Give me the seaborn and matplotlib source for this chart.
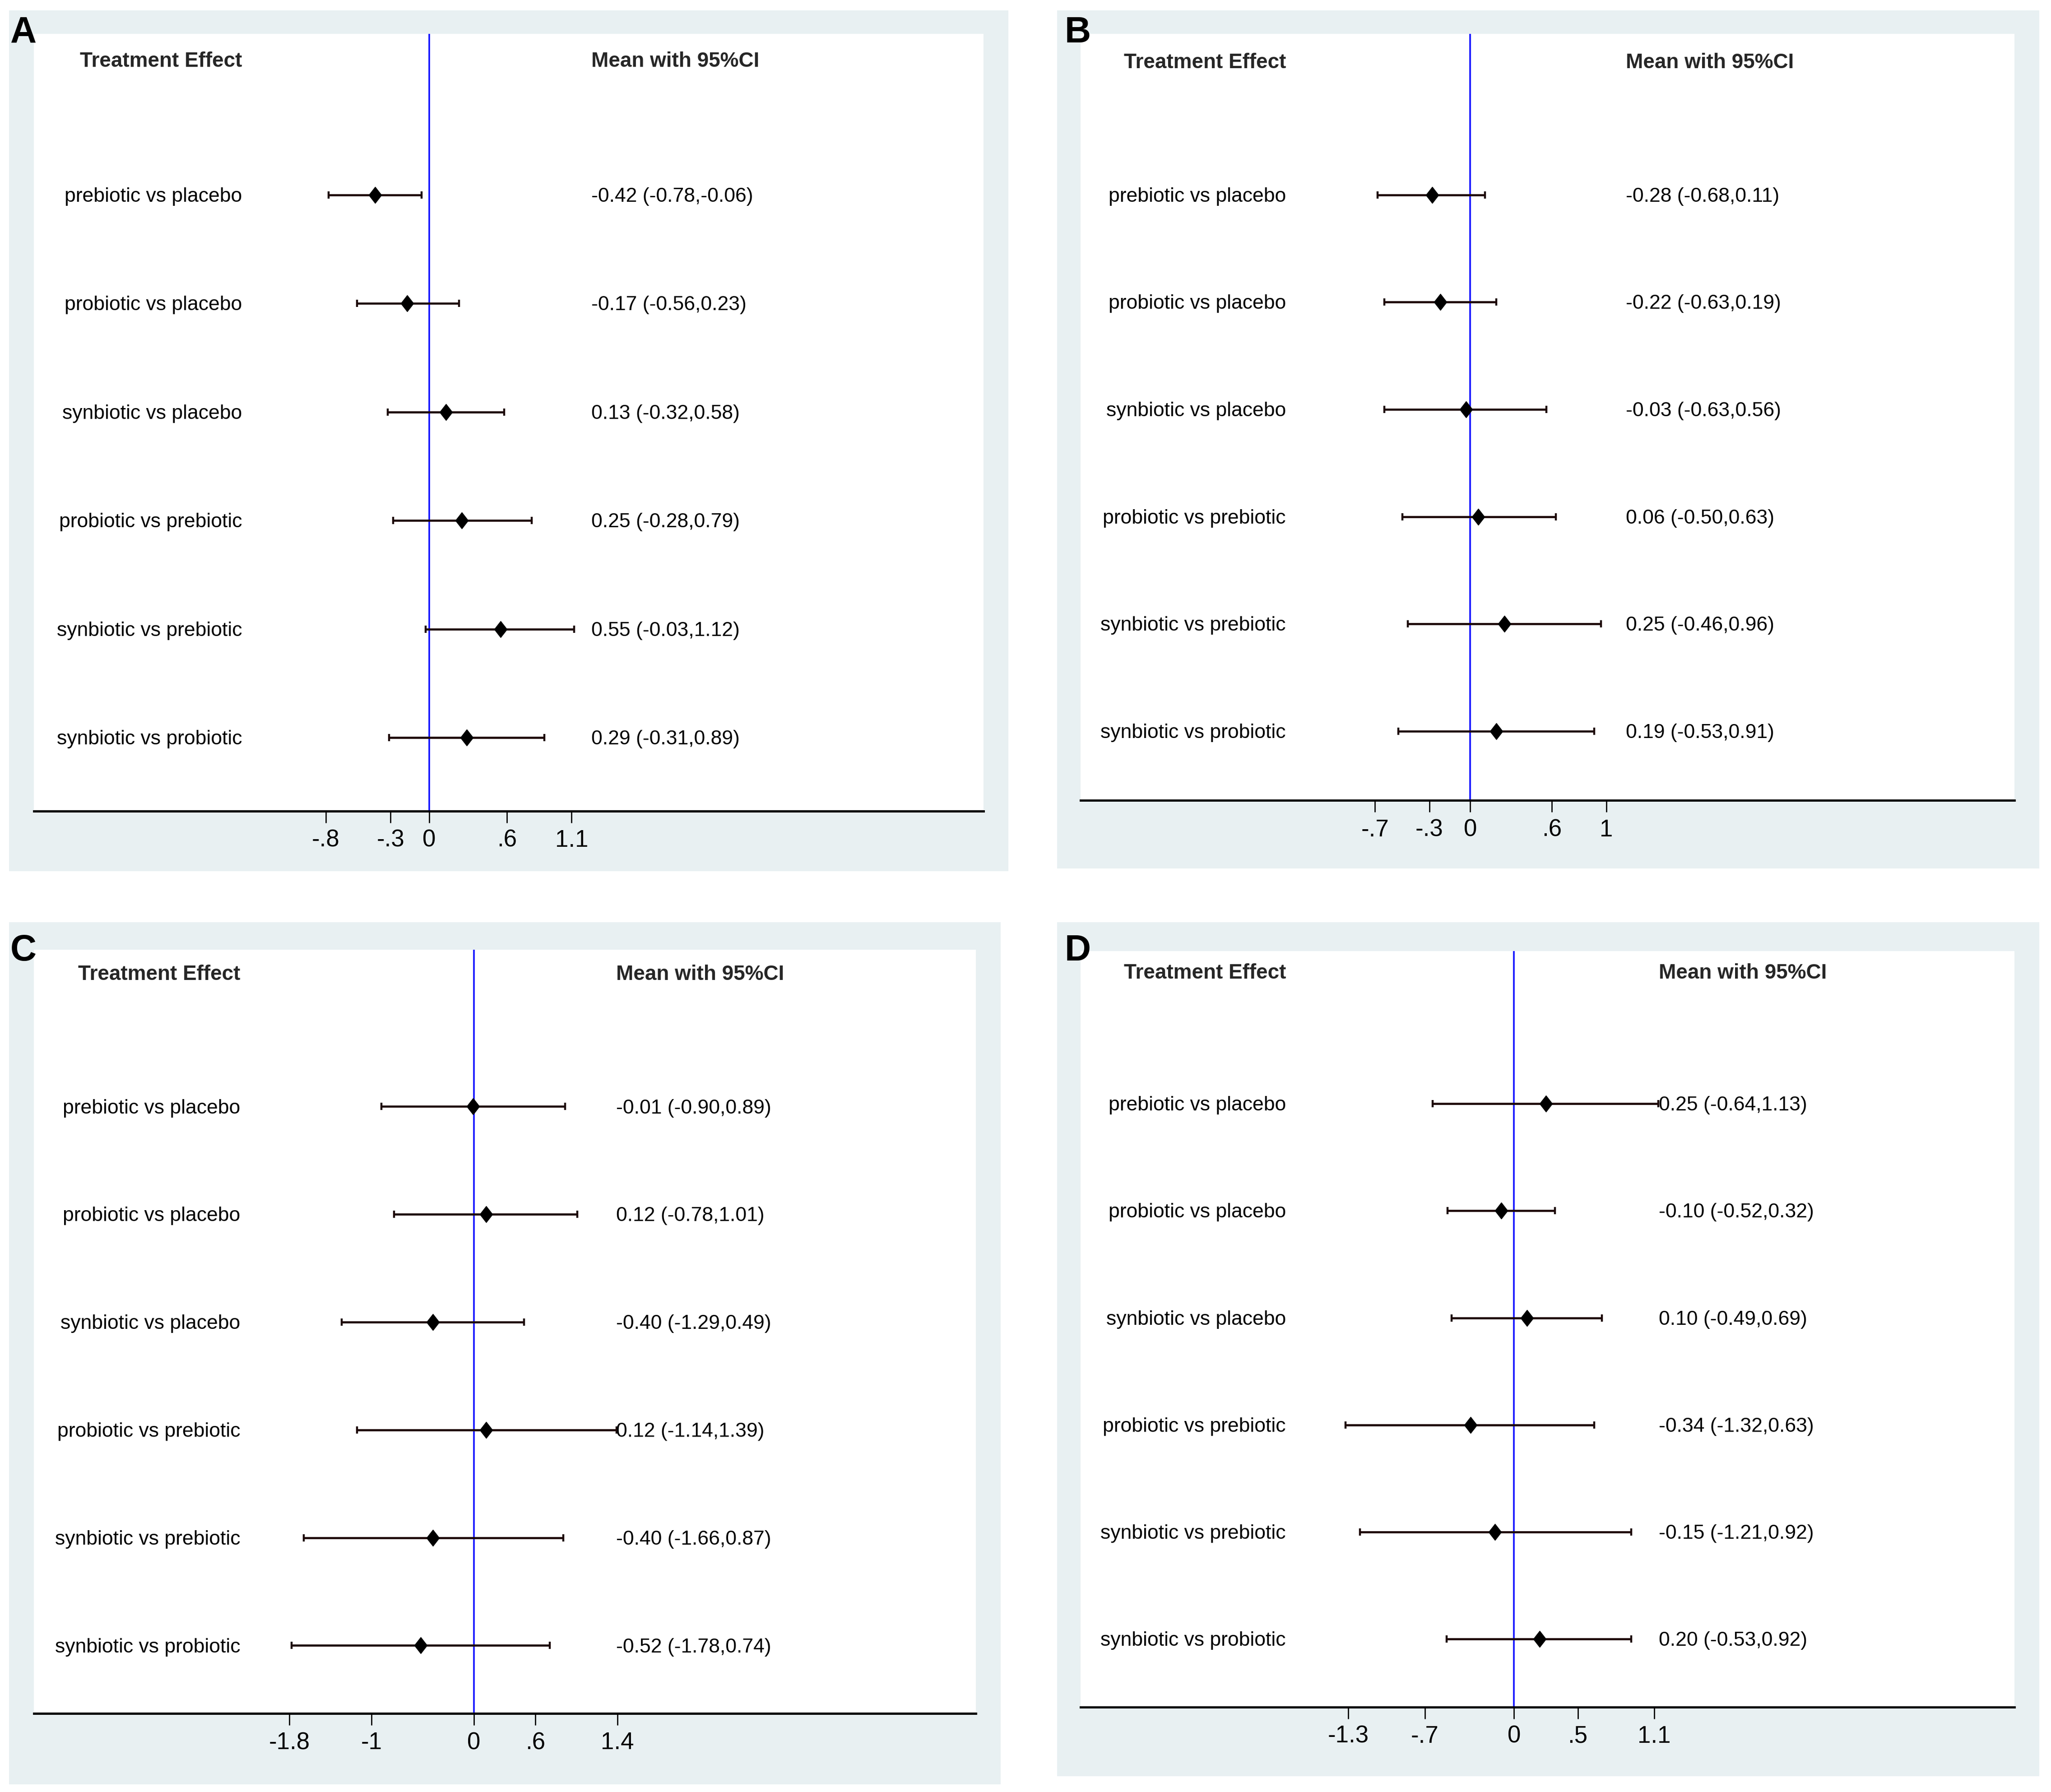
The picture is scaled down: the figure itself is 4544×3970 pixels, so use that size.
import matplotlib
matplotlib.use("Agg")
import matplotlib.pyplot as plt
import seaborn as sns
import pandas as pd
import numpy as np
from matplotlib import font_manager
from matplotlib.path import Path
from matplotlib.patches import Rectangle

# =========================================
# DATA
# =========================================

comparisons = [
    "prebiotic vs placebo",
    "probiotic vs placebo",
    "synbiotic vs placebo",
    "probiotic vs prebiotic",
    "synbiotic vs prebiotic",
    "synbiotic vs probiotic",
]

a_mean = [-0.42, -0.17, 0.13, 0.25, 0.55, 0.29]
a_low = [-0.78, -0.56, -0.32, -0.28, -0.03, -0.31]
a_high = [-0.06, 0.23, 0.58, 0.79, 1.12, 0.89]
a_ticks = [-0.8, -0.3, 0, 0.6, 1.1]

b_mean = [-0.28, -0.22, -0.03, 0.06, 0.25, 0.19]
b_low = [-0.68, -0.63, -0.63, -0.50, -0.46, -0.53]
b_high = [0.11, 0.19, 0.56, 0.63, 0.96, 0.91]
b_ticks = [-0.7, -0.3, 0, 0.6, 1]

c_mean = [-0.01, 0.12, -0.40, 0.12, -0.40, -0.52]
c_low = [-0.90, -0.78, -1.29, -1.14, -1.66, -1.78]
c_high = [0.89, 1.01, 0.49, 1.39, 0.87, 0.74]
c_ticks = [-1.8, -1, 0, 0.6, 1.4]

d_mean = [0.25, -0.10, 0.10, -0.34, -0.15, 0.20]
d_low = [-0.64, -0.52, -0.49, -1.32, -1.21, -0.53]
d_high = [1.13, 0.32, 0.69, 0.63, 0.92, 0.92]
d_ticks = [-1.3, -0.7, 0, 0.5, 1.1]

panel_names = ["A", "B", "C", "D"]

# =========================================
# LAYOUT (reference measured on a 1568 x 1370 grid)
# =========================================

W, H = 1568.0, 1370.0
# gray box, white plot area, zero position + px per unit, ylim, label pos
layout = {
    "A": dict(bg=(7, 8, 771, 666), plot=(26, 26, 752, 620), zero=328.2, unit=98.9,
              ylim=(6.675, -0.482), head_y=-0.23, lab_x=0.219, val_x=0.587, letter=(8, 12)),
    "B": dict(bg=(808, 8, 1559, 664), plot=(826, 26, 1540, 612), zero=1124, unit=104,
              ylim=(6.646, -0.5), head_y=-0.232, lab_x=0.220, val_x=0.584, letter=(814, 12)),
    "C": dict(bg=(7, 705, 765, 1364), plot=(26, 726, 746, 1310), zero=362.3, unit=78.4,
              ylim=(6.631, -0.456), head_y=-0.226, lab_x=0.219, val_x=0.618, letter=(8, 714)),
    "D": dict(bg=(808, 705, 1559, 1358), plot=(826, 727, 1540, 1305), zero=1157.5, unit=97.5,
              ylim=(6.634, -0.427), head_y=-0.22, lab_x=0.220, val_x=0.619, letter=(814, 714)),
}
text_shift = 0.015  # rows, nudges labels down to match the reference

# =========================================
# STYLE
# =========================================

sns.set_theme(style="white")

names = {f.name for f in font_manager.fontManager.ttflist}
has_narrow = "Liberation Sans Narrow" in names
plt.rcParams["font.family"] = ["Liberation Sans", "DejaVu Sans"]

if has_narrow:
    narrow = ["Liberation Sans Narrow", "Liberation Sans", "DejaVu Sans"]
    head_size, tick_size = 19.5, 22.5
else:
    narrow = ["Liberation Sans", "DejaVu Sans"]
    head_size, tick_size = 16.5, 19

bg_color = "#E8F0F2"
bar_color = "#1c0808"

diamond = Path([(0, 1), (0.78, 0), (0, -1), (-0.78, 0), (0, 1)],
               [Path.MOVETO, Path.LINETO, Path.LINETO, Path.LINETO, Path.CLOSEPOLY])


def tick_text(v):
    if v == 0:
        return "0"
    s = f"{v:g}"
    return s.replace("0.", ".")


fig = plt.figure(figsize=(22.72, 19.85), dpi=200)
fig.patch.set_facecolor("white")

panels = {
    "A": (a_mean, a_low, a_high, a_ticks),
    "B": (b_mean, b_low, b_high, b_ticks),
    "C": (c_mean, c_low, c_high, c_ticks),
    "D": (d_mean, d_low, d_high, d_ticks),
}

for name in panel_names:
    mean, low, high, ticks = panels[name]
    lay = layout[name]

    # gray frame
    x0, y0, x1, y1 = lay["bg"]
    fig.patches.append(Rectangle((x0 / W, 1 - y1 / H), (x1 - x0) / W, (y1 - y0) / H,
                                 transform=fig.transFigure, facecolor=bg_color,
                                 edgecolor="none", zorder=-10))

    px0, py0, px1, py1 = lay["plot"]
    ax = fig.add_axes([px0 / W, 1 - py1 / H, (px1 - px0) / W, (py1 - py0) / H])
    ax.set_facecolor("white")
    ax.set_zorder(1)

    df = pd.DataFrame({
        "comparison": comparisons,
        "mean": mean,
        "low": low,
        "high": high,
        "row": np.arange(1, len(comparisons) + 1),
    })

    # confidence intervals
    ax.errorbar((df["low"] + df["high"]) / 2, df["row"],
                xerr=(df["high"] - df["low"]) / 2, fmt="none", ecolor=bar_color,
                elinewidth=1.7, capsize=2.8, capthick=1.6, zorder=2)

    # point estimates
    sns.scatterplot(data=df, x="mean", y="row", marker=diamond, s=13 ** 2,
                    color="black", edgecolor="black", linewidth=0.5, ax=ax, zorder=3)

    # zero line
    ax.axvline(0, color="#1010ff", lw=1.3, zorder=1)

    xmin = (px0 - lay["zero"]) / lay["unit"]
    xmax = (px1 - lay["zero"]) / lay["unit"]
    ax.set_xlim(xmin, xmax)
    ax.set_ylim(*lay["ylim"])

    # texts
    ax.text(lay["lab_x"], lay["head_y"], "Treatment Effect",
            transform=ax.get_yaxis_transform(), ha="right", va="center",
            fontsize=head_size, fontweight="bold", family=narrow)
    ax.text(lay["val_x"], lay["head_y"], "Mean with 95%CI",
            transform=ax.get_yaxis_transform(), ha="left", va="center",
            fontsize=head_size, fontweight="bold", family=narrow)
    for _, r in df.iterrows():
        ax.text(lay["lab_x"], r["row"] + text_shift, r["comparison"],
                transform=ax.get_yaxis_transform(), ha="right", va="center",
                fontsize=16, color="black")
        ax.text(lay["val_x"], r["row"] + text_shift,
                f"{r['mean']:.2f} ({r['low']:.2f},{r['high']:.2f})",
                transform=ax.get_yaxis_transform(), ha="left", va="center",
                fontsize=16, color="black")

    # axis styling
    for side in ["left", "top", "right"]:
        ax.spines[side].set_visible(False)
    ax.spines["bottom"].set_color("black")
    ax.spines["bottom"].set_linewidth(1.8)
    ax.set_yticks([])
    ax.set_xticks(ticks)
    ax.set_xticklabels([tick_text(t) for t in ticks], fontsize=tick_size, family=narrow)
    ax.tick_params(axis="x", direction="out", length=9.5, width=1.0, pad=5,
                   colors="black", bottom=True)
    ax.set_xlabel("")
    ax.set_ylabel("")
    ax.grid(False)

    # panel letter
    lx, ly = lay["letter"]
    fig.text(lx / W, 1 - ly / H, name, ha="left", va="top",
             fontsize=29, fontweight="bold", color="black", zorder=5)

fig.savefig("out.png", dpi=200, facecolor="white")
